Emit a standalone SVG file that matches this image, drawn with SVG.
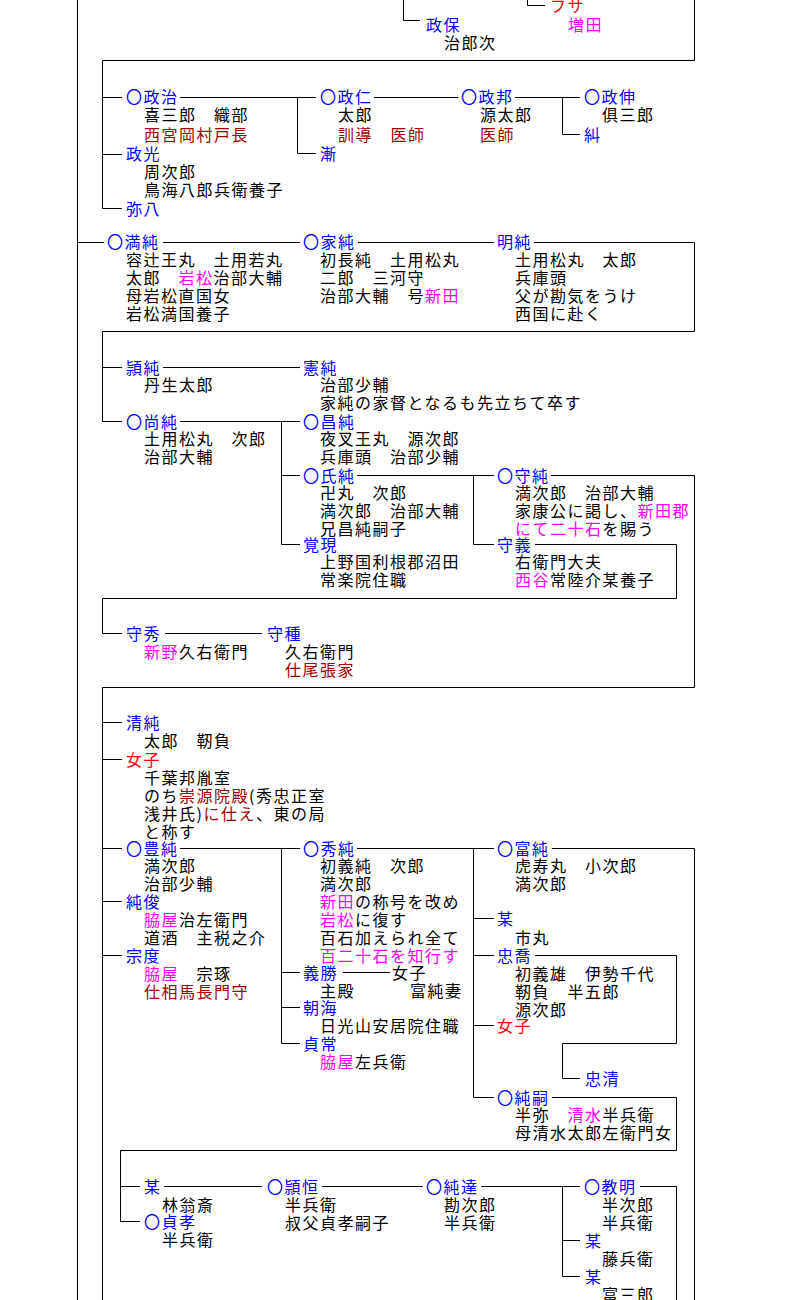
<svg xmlns="http://www.w3.org/2000/svg" width="794" height="1300" viewBox="0 0 794 1300">
<style>
text{font-family:"Noto Sans CJK JP","Noto Sans CJK SC",sans-serif;font-size:16px;letter-spacing:1.5px;fill:#000}
.b{fill:#0000ff}.r{fill:#ff0000}.m{fill:#ff00ff}.d{fill:#a00000}
.c{fill:none;stroke:#000;stroke-width:1}
</style>
<rect width="794" height="1300" fill="#fff"/>
<g id="connectors" class="c">
<path d="M77.5,0V1300"/>
<path d="M403.5,0V20.5H420"/>
<path d="M527.5,0V5.5H545"/>
<path d="M694.5,0V60.5H102.5V208.5H122"/>
<path d="M102,97.5H122M180,97.5H316M297.5,97.5V153.5H316M374,97.5H458M515,97.5H580M562.5,97.5V134.5H580M102,154.5H122"/>
<path d="M77,242.5H104M163,242.5H300M358,242.5H494M534,242.5H694.5V331.5H102.5V421.5H122"/>
<path d="M102,367.5H122M163,367.5H300M180,421.5H300M281.5,421.5V544.5H300M281,475.5H300M357,475.5H494M473.5,475.5V544.5H494"/>
<path d="M551,475.5H694.5V687.5H102.5V1300"/>
<path d="M535,544.5H676.5V598.5H102.5V633.5H122M165,633.5H262"/>
<path d="M102,722.5H122M102,759.5H122M102,848.5H122M102,901.5H122M102,955.5H122"/>
<path d="M180,848.5H300M281.5,848.5V1043.5H300M281,972.5H300M281,1007.5H300M343,972.5H390"/>
<path d="M357,848.5H494M473.5,848.5V1097.5H494M473,918.5H494M473,955.5H494M473,1025.5H494"/>
<path d="M552,848.5H694.5V1300"/>
<path d="M535,955.5H676.5V1043.5H562.5V1078.5H580"/>
<path d="M552,1097.5H676.5V1150.5H120.5V1221.5H140M120,1186.5H140"/>
<path d="M164,1186.5H262M322,1186.5H423M481,1186.5H580M562.5,1186.5V1276.5H580M562,1240.5H580M640,1186.5H676.5V1300"/>
</g>
<g id="n-masayasu"><text x="426" y="31" class="b">政保</text><text x="444" y="49">治郎次</text></g>
<g id="n-fusa"><text x="550" y="12" class="r">フサ</text><text x="568" y="31" class="m">増田</text></g>
<g id="n-masaharu"><text x="126" y="103" class="b">〇政治</text><text x="144" y="121">喜三郎　織部</text><text x="144" y="141" class="d">西宮岡村戸長</text></g>
<g id="n-masahito"><text x="320" y="103" class="b">〇政仁</text><text x="338" y="121">太郎</text><text x="338" y="141" class="d">訓導　医師</text></g>
<g id="n-zen"><text x="320" y="160" class="b">漸</text></g>
<g id="n-masakuni"><text x="461" y="103" class="b">〇政邦</text><text x="480" y="121">源太郎</text><text x="480" y="141" class="d">医師</text></g>
<g id="n-masanobu"><text x="584" y="103" class="b">〇政伸</text><text x="602" y="121">俱三郎</text></g>
<g id="n-kyu"><text x="584" y="141" class="b">糾</text></g>
<g id="n-masamitsu"><text x="126" y="160" class="b">政光</text><text x="144" y="178">周次郎</text><text x="144" y="196">鳥海八郎兵衛養子</text></g>
<g id="n-yahachi"><text x="126" y="215" class="b">弥八</text></g>
<g id="n-mitsuzumi"><text x="107" y="248" class="b">〇満純</text><text x="126" y="266">容辻王丸　土用若丸</text><text x="126" y="284">太郎　<tspan class="m">岩松</tspan>治部大輔</text><text x="126" y="302">母岩松直国女</text><text x="126" y="320">岩松満国養子</text></g>
<g id="n-iezumi"><text x="303" y="248" class="b">〇家純</text><text x="320" y="266">初長純　土用松丸</text><text x="320" y="284">二郎　三河守</text><text x="320" y="302">治部大輔　号<tspan class="m">新田</tspan></text></g>
<g id="n-akizumi"><text x="497" y="248" class="b">明純</text><text x="515" y="266">土用松丸　太郎</text><text x="515" y="284">兵庫頭</text><text x="515" y="302">父が勘気をうけ</text><text x="515" y="320">西国に赴く</text></g>
<g id="n-eizumi"><text x="126" y="374" class="b">頴純</text><text x="144" y="391">丹生太郎</text></g>
<g id="n-norizumi"><text x="303" y="374" class="b">憲純</text><text x="320" y="391">治部少輔</text><text x="320" y="409">家純の家督となるも先立ちて卒す</text></g>
<g id="n-naozumi"><text x="126" y="428" class="b">〇尚純</text><text x="144" y="445">土用松丸　次郎</text><text x="144" y="463">治部大輔</text></g>
<g id="n-masazumi"><text x="303" y="428" class="b">〇昌純</text><text x="320" y="445">夜叉王丸　源次郎</text><text x="320" y="463">兵庫頭　治部少輔</text></g>
<g id="n-ujizumi"><text x="303" y="482" class="b">〇氏純</text><text x="320" y="499">卍丸　次郎</text><text x="320" y="517">満次郎　治部大輔</text><text x="320" y="535">兄昌純嗣子</text></g>
<g id="n-kakugen"><text x="303" y="551" class="b">覚現</text><text x="320" y="568">上野国利根郡沼田</text><text x="320" y="586">常楽院住職</text></g>
<g id="n-morizumi"><text x="497" y="482" class="b">〇守純</text><text x="515" y="499">満次郎　治部大輔</text><text x="515" y="517">家康公に謁し、<tspan class="m">新田郡</tspan></text><text x="515" y="535"><tspan class="m">にて二十石</tspan>を賜う</text></g>
<g id="n-moriyoshi"><text x="497" y="551" class="b">守義</text><text x="515" y="568">右衛門大夫</text><text x="515" y="586"><tspan class="m">西谷</tspan>常陸介某養子</text></g>
<g id="n-morihide"><text x="126" y="640" class="b">守秀</text><text x="144" y="658"><tspan class="m">新野</tspan>久右衛門</text></g>
<g id="n-moritane"><text x="267" y="640" class="b">守種</text><text x="285" y="658">久右衛門</text><text x="285" y="676" class="d">仕尾張家</text></g>
<g id="n-kiyozumi"><text x="126" y="729" class="b">清純</text><text x="144" y="747">太郎　靭負</text></g>
<g id="n-joshi1"><text x="126" y="766" class="r">女子</text><text x="144" y="784">千葉邦胤室</text><text x="144" y="802">のち<tspan class="d">崇源院殿</tspan>(秀忠正室</text><text x="144" y="820">浅井氏)<tspan class="d">に仕え</tspan>、東の局</text><text x="144" y="838">と称す</text></g>
<g id="n-toyozumi"><text x="126" y="855" class="b">〇豊純</text><text x="144" y="872">満次郎</text><text x="144" y="890">治部少輔</text></g>
<g id="n-sumitoshi"><text x="126" y="908" class="b">純俊</text><text x="144" y="926"><tspan class="m">脇屋</tspan>治左衛門</text><text x="144" y="944">道酒　主税之介</text></g>
<g id="n-munenori"><text x="126" y="962" class="b">宗度</text><text x="144" y="980"><tspan class="m">脇屋</tspan>　宗琢</text><text x="144" y="998" class="d">仕相馬長門守</text></g>
<g id="n-hidezumi"><text x="303" y="855" class="b">〇秀純</text><text x="320" y="872">初義純　次郎</text><text x="320" y="890">満次郎</text><text x="320" y="908"><tspan class="m">新田</tspan>の称号を改め</text><text x="320" y="926"><tspan class="m">岩松</tspan>に復す</text><text x="320" y="944">百石加えられ全て</text><text x="320" y="962" class="m">百二十石を知行す</text></g>
<g id="n-yoshikatsu"><text x="303" y="979" class="b">義勝</text><text x="320" y="997">主殿</text></g>
<g id="n-joshi2"><text x="392" y="979">女子</text><text x="410" y="997">富純妻</text></g>
<g id="n-chokai"><text x="303" y="1014" class="b">朝海</text><text x="320" y="1032">日光山安居院住職</text></g>
<g id="n-sadatsune"><text x="303" y="1050" class="b">貞常</text><text x="320" y="1068"><tspan class="m">脇屋</tspan>左兵衛</text></g>
<g id="n-tomizumi"><text x="497" y="855" class="b">〇富純</text><text x="515" y="872">虎寿丸　小次郎</text><text x="515" y="890">満次郎</text></g>
<g id="n-bou1"><text x="497" y="925" class="b">某</text><text x="515" y="944">市丸</text></g>
<g id="n-tadataka"><text x="497" y="962" class="b">忠喬</text><text x="515" y="980">初義雄　伊勢千代</text><text x="515" y="998">靭負　半五郎</text><text x="515" y="1016">源次郎</text></g>
<g id="n-joshi3"><text x="497" y="1032" class="r">女子</text></g>
<g id="n-tadakiyo"><text x="585" y="1085" class="b">忠清</text></g>
<g id="n-sumitsugu"><text x="497" y="1104" class="b">〇純嗣</text><text x="515" y="1121">半弥　<tspan class="m">清水</tspan>半兵衛</text><text x="515" y="1139">母清水太郎左衛門女</text></g>
<g id="n-bou2"><text x="144" y="1193" class="b">某</text><text x="162" y="1211">林翁斎</text></g>
<g id="n-sadataka"><text x="144" y="1228" class="b">〇貞孝</text><text x="162" y="1246">半兵衛</text></g>
<g id="n-eitsune"><text x="267" y="1193" class="b">〇頴恒</text><text x="285" y="1211">半兵衛</text><text x="285" y="1229">叔父貞孝嗣子</text></g>
<g id="n-sumimichi"><text x="426" y="1193" class="b">〇純達</text><text x="444" y="1211">勘次郎</text><text x="444" y="1229">半兵衛</text></g>
<g id="n-noriaki"><text x="584" y="1193" class="b">〇教明</text><text x="602" y="1211">半次郎</text><text x="602" y="1229">半兵衛</text></g>
<g id="n-bou3"><text x="585" y="1247" class="b">某</text><text x="602" y="1265">藤兵衛</text></g>
<g id="n-bou4"><text x="585" y="1283" class="b">某</text><text x="602" y="1301">富三郎</text></g>
</svg>
